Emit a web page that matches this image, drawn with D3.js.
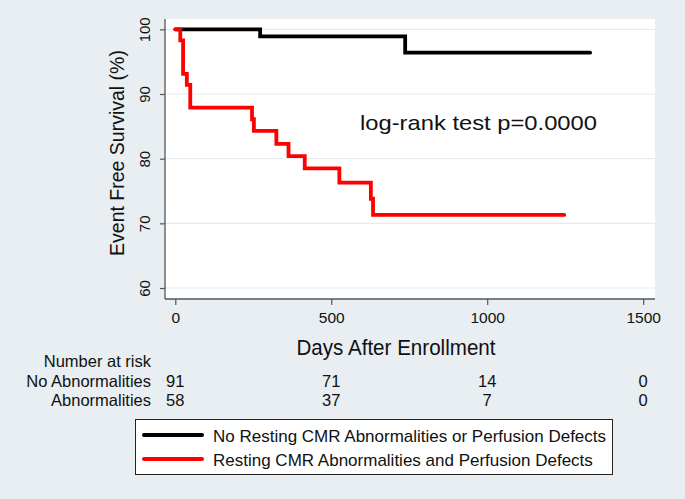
<!DOCTYPE html>
<html>
<head>
<meta charset="utf-8">
<script src="https://cdn.jsdelivr.net/npm/d3@7"></script>
<style>
  html, body { margin: 0; padding: 0; background: #e8eef2; }
  svg { display: block; font-family: "Liberation Sans", Arial, Helvetica, sans-serif; }
</style>
</head>
<body>
<svg id="chart" width="685" height="499"></svg>
<script>
// ---- data ----
const noAbnDays  = [0, 272, 737, 1330];
const noAbnSurv  = [100, 98.9, 96.4, 96.4];
const abnDays    = [0, 16, 25, 37, 48, 246, 252, 324, 363, 415, 526, 627, 634, 1247];
const abnSurv    = [100, 98.3, 93.1, 91.4, 87.9, 86.1, 84.3, 82.3, 80.4, 78.5, 76.3, 73.8, 71.3, 71.3];
const xTicks     = [0, 500, 1000, 1500];
const yTicks     = [60, 70, 80, 90, 100];
const riskGroups = ["No Abnormalities", "Abnormalities"];
const riskNoAbn  = [91, 71, 14, 0];
const riskAbn    = [58, 37, 7, 0];
const seriesNames = ["No Resting CMR Abnormalities or Perfusion Defects",
                     "Resting CMR Abnormalities and Perfusion Defects"];
const seriesColors = ["#000000", "#ff0000"];
const annotation = "log-rank test p=0.0000";

// ---- layout ----
const svg = d3.select("#chart");
const W = 685, H = 499;
const plot = {left: 165, right: 655, top: 19, bottom: 299};

svg.append("rect").attr("width", W).attr("height", H).attr("fill", "#e8eef2");
svg.append("rect")
  .attr("x", plot.left).attr("y", plot.top)
  .attr("width", plot.right - plot.left).attr("height", plot.bottom - plot.top)
  .attr("fill", "#ffffff");

const x = d3.scaleLinear().domain([-33, 1538]).range([plot.left, plot.right]);
const y = d3.scaleLinear().domain([58.3, 101.6]).range([plot.bottom, plot.top]);

// gridlines
svg.append("g").selectAll("line").data(yTicks).join("line")
  .attr("x1", plot.left).attr("x2", plot.right)
  .attr("y1", d => y(d)).attr("y2", d => y(d))
  .attr("stroke", "#e4ecf0").attr("stroke-width", 1.2);

// y axis
const yAxis = svg.append("g").attr("transform", `translate(${plot.left},0)`)
  .call(d3.axisLeft(y).tickValues(yTicks).tickSize(5).tickPadding(0).tickSizeOuter(0));
yAxis.select(".domain").attr("stroke", "#555").attr("stroke-width", 1.3)
  .attr("d", `M0,${plot.top}V${plot.bottom}`);
yAxis.selectAll(".tick line").attr("stroke", "#555").attr("stroke-width", 1.2);
yAxis.selectAll(".tick text")
  .attr("transform", "rotate(-90)")
  .attr("x", 0).attr("y", -15.5).attr("dy", 0)
  .attr("text-anchor", "middle")
  .attr("font-size", 15).attr("fill", "#111")
  .attr("font-family", "Liberation Sans, Arial, sans-serif");

// x axis
const xAxis = svg.append("g").attr("transform", `translate(0,${plot.bottom})`)
  .call(d3.axisBottom(x).tickValues(xTicks).tickSize(6).tickPadding(4).tickSizeOuter(0).tickFormat(d3.format("d")));
xAxis.select(".domain").attr("stroke", "#555").attr("stroke-width", 1.3)
  .attr("d", `M${plot.left},0H${plot.right}`);
xAxis.selectAll(".tick line").attr("stroke", "#555").attr("stroke-width", 1.2);
xAxis.selectAll(".tick text")
  .attr("font-size", 15.5).attr("fill", "#111")
  .attr("font-family", "Liberation Sans, Arial, sans-serif")
  .attr("y", 24).attr("dy", 0);

// axis titles
svg.append("text")
  .attr("transform", `translate(124,${(plot.top + plot.bottom) / 2 - 6}) rotate(-90)`)
  .attr("text-anchor", "middle").attr("font-size", 19.5).attr("fill", "#111")
  .text("Event Free Survival (%)");
svg.append("text")
  .attr("x", 396).attr("y", 355)
  .attr("text-anchor", "middle").attr("font-size", 21.5).attr("fill", "#111")
  .attr("textLength", 199).attr("lengthAdjust", "spacingAndGlyphs")
  .text("Days After Enrollment");

// curves
const line = d3.line().x(d => x(d[0])).y(d => y(d[1])).curve(d3.curveStepAfter);
const seriesData = [
  d3.zip(noAbnDays, noAbnSurv),
  d3.zip(abnDays, abnSurv)
];
svg.append("g").selectAll("path").data(seriesData).join("path")
  .attr("d", line)
  .attr("fill", "none")
  .attr("stroke", (d, i) => seriesColors[i])
  .attr("stroke-width", 3.8)
  .attr("stroke-linejoin", "miter")
  .attr("stroke-linecap", "round");

// annotation
svg.append("text")
  .attr("x", 360).attr("y", 129.5)
  .attr("font-size", 21).attr("fill", "#111")
  .attr("textLength", 237).attr("lengthAdjust", "spacingAndGlyphs")
  .text(annotation);

// number at risk table
svg.append("text").attr("x", 151).attr("y", 366.5)
  .attr("text-anchor", "end").attr("font-size", 16.5).attr("fill", "#111")
  .text("Number at risk");
const riskRows = [riskNoAbn, riskAbn];
const rowY = [386.5, 405.5];
riskRows.forEach((row, r) => {
  svg.append("text").attr("x", 151).attr("y", rowY[r])
    .attr("text-anchor", "end").attr("font-size", 16.5).attr("fill", "#111")
    .text(riskGroups[r]);
  svg.append("g").selectAll("text").data(row).join("text")
    .attr("x", (d, i) => x(xTicks[i]))
    .attr("y", rowY[r])
    .attr("text-anchor", "middle").attr("font-size", 16.5).attr("fill", "#111")
    .text(d => d);
});

// legend
const lg = svg.append("g");
lg.append("rect").attr("x", 135.5).attr("y", 419.5).attr("width", 477).attr("height", 55)
  .attr("fill", "#ffffff").attr("stroke", "#222").attr("stroke-width", 1);
seriesNames.forEach((name, i) => {
  const ly = 435 + i * 24;
  lg.append("line").attr("x1", 144).attr("x2", 202).attr("y1", ly).attr("y2", ly)
    .attr("stroke", seriesColors[i]).attr("stroke-width", 4).attr("stroke-linecap", "round");
  lg.append("text").attr("x", 213).attr("y", ly + 7)
    .attr("font-size", 17).attr("fill", "#111")
    .text(name);
});
</script>
</body>
</html>
